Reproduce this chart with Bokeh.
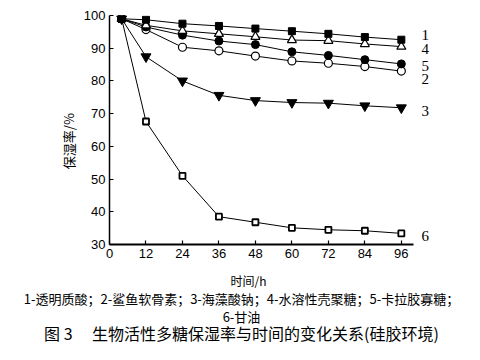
import numpy as np
from bokeh.plotting import figure
from bokeh.layouts import column, row
from bokeh.models import Range1d, FixedTicker, LinearAxis
from bokeh.core.properties import value
from bokeh.embed import file_html
from bokeh.resources import INLINE

hours = [4, 12, 24, 36, 48, 60, 72, 84, 96]
s1 = [99, 98.7, 97.5, 96.8, 96.0, 95.2, 94.4, 93.4, 92.6]   # 透明质酸
s2 = [99, 95.7, 90.3, 89.2, 87.6, 86.1, 85.4, 84.4, 83.0]   # 鲨鱼软骨素
s3 = [99, 87.4, 80.0, 75.6, 74.0, 73.4, 73.2, 72.4, 71.8]   # 海藻酸钠
s4 = [99, 97.0, 95.3, 94.4, 93.5, 92.5, 92.3, 91.3, 90.5]   # 水溶性壳聚糖
s5 = [99, 96.5, 94.0, 92.2, 91.1, 88.9, 87.8, 86.5, 85.2]   # 卡拉胶寡糖
s6 = [99, 67.6, 51.0, 38.5, 36.8, 35.1, 34.5, 34.2, 33.4]   # 甘油
x_ticks = [0, 12, 24, 36, 48, 60, 72, 84, 96]
y_ticks = [30, 40, 50, 60, 70, 80, 90, 100]
series_names = ["1", "2", "3", "4", "5", "6"]
end_label_y = [94.1, 80.6, 70.8, 89.8, 84.6, 32.7]

y_title = "保湿率/%"
x_title = "时间/h"
caption1 = "1-透明质酸；2-鲨鱼软骨素；3-海藻酸钠；4-水溶性壳聚糖；5-卡拉胶寡糖；"
caption2 = "6-甘油"
fig_title = "图 3　 生物活性多糖保湿率与时间的变化关系(硅胶环境)"

cjk = "Noto Sans CJK SC"
num_font = "Liberation Sans"

# ---------- main chart ----------
p = figure(width=384, height=268, output_backend="svg", toolbar_location=None,
           x_range=Range1d(0, 100), y_range=Range1d(30, 100),
           min_border_left=28, min_border_right=52, min_border_top=15, min_border_bottom=24)
p.frame_width = 304
p.frame_height = 229
p.outline_line_color = None
p.grid.visible = False
p.background_fill_color = "white"
p.border_fill_color = "white"

for ax in (p.xaxis[0], p.yaxis[0]):
    ax.major_label_text_font = num_font
    ax.major_label_text_font_size = "13px"
    ax.major_label_text_color = "black"
    ax.major_tick_in = 4
    ax.major_tick_out = 0
    ax.minor_tick_in = 0
    ax.minor_tick_out = 0
    ax.axis_line_color = "black"
    ax.major_tick_line_color = "black"
    ax.major_label_standoff = 4
p.xaxis[0].ticker = FixedTicker(ticks=x_ticks)
p.yaxis[0].ticker = FixedTicker(ticks=y_ticks)
p.xaxis[0].axis_line_width = 2.2
p.yaxis[0].axis_line_width = 1.5
p.xaxis[0].major_tick_line_width = 1.2
p.yaxis[0].major_tick_line_width = 1.2

lc = "black"
p.line(hours, s6, line_color=lc, line_width=1)
p.scatter(hours, s6, marker="square", size=6, fill_color="white", line_color=lc, line_width=1.8)
p.line(hours, s3, line_color=lc, line_width=1)
p.scatter(hours, s3, marker="inverted_triangle", size=10, fill_color=lc, line_color=lc)
p.line(hours, s2, line_color=lc, line_width=1)
p.scatter(hours, s2, marker="circle", size=8, fill_color="white", line_color=lc, line_width=1.2)
p.line(hours, s5, line_color=lc, line_width=1)
p.scatter(hours, s5, marker="circle", size=8, fill_color=lc, line_color=lc)
p.line(hours, s4, line_color=lc, line_width=1)
p.scatter(hours, s4, marker="triangle", size=9, fill_color="white", line_color=lc, line_width=1.2)
p.line(hours, s1, line_color=lc, line_width=1)
p.scatter(hours, s1, marker="square", size=7, fill_color=lc, line_color=lc)

# series numbers at the right end, as a label-only axis
right = LinearAxis(ticker=FixedTicker(ticks=end_label_y),
                   major_label_overrides={yv: n for yv, n in zip(end_label_y, series_names)})
right.axis_line_color = None
right.major_tick_line_color = None
right.minor_tick_line_color = None
right.major_label_standoff = 2
right.major_label_text_font = "Liberation Serif"
right.major_label_text_font_size = "15px"
right.major_label_text_color = "black"
p.add_layout(right, "right")

# ---------- y-axis title panel ----------
pl = figure(width=80, height=268, output_backend="svg", toolbar_location=None,
            x_range=Range1d(0, 80), y_range=Range1d(0, 268),
            x_axis_type=None, y_axis_type=None, min_border=0)
pl.outline_line_color = None
pl.grid.visible = False
pl.text(x=[68], y=[121], text=[y_title], angle=np.pi / 2, text_font=value(cjk),
        text_font_size="13px", text_align="center", text_baseline="middle", text_color="black")

# ---------- caption panel ----------
pc = figure(width=464, height=76, output_backend="svg", toolbar_location=None,
            x_range=Range1d(0, 464), y_range=Range1d(0, 76),
            x_axis_type=None, y_axis_type=None, min_border=0)
pc.outline_line_color = None
pc.grid.visible = False
pc.text(x=[248], y=[64], text=[x_title], text_font=value(cjk), text_font_size="12px",
        text_align="center", text_baseline="middle", text_color="black")
pc.text(x=[241, 241], y=[46, 28], text=[caption1, caption2], text_font=value(cjk),
        text_font_size="13px", text_align="center", text_baseline="middle", text_color="black")
pc.text(x=[241], y=[12], text=[fig_title], text_font=value(cjk), text_font_size="16px",
        text_align="center", text_baseline="middle", text_color="black")

layout = column(row(pl, p, spacing=0), pc, spacing=0)
open("out.html", "w").write(file_html(layout, INLINE))
